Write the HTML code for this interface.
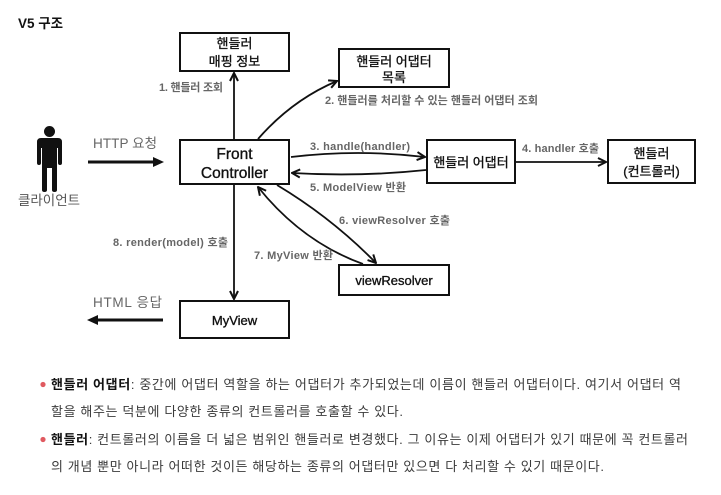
<!DOCTYPE html>
<html><head><meta charset="utf-8">
<style>
html,body{margin:0;padding:0;background:#fff;width:721px;height:495px;overflow:hidden}
svg{display:block}
text{font-family:"Liberation Sans","Noto Sans CJK KR",sans-serif}
.lb{font-size:11px;font-weight:bold;fill:#666}
.bx{font-size:13px;fill:#111;stroke:#111;stroke-width:0.35}
.bt{font-size:13px;fill:#3a3a3a}
</style></head>
<body>
<svg width="721" height="495" viewBox="0 0 721 495" xmlns="http://www.w3.org/2000/svg">
<defs>
<marker id="v" viewBox="0 0 10 10" refX="9" refY="5" markerWidth="10" markerHeight="10" markerUnits="userSpaceOnUse" orient="auto">
<path d="M1,1 L9,5 L1,9" fill="none" stroke="#111" stroke-width="2" stroke-linejoin="miter"/>
</marker>
</defs>

<text x="18" y="28" font-size="13.5" font-weight="bold" fill="#111">V5 구조</text>

<!-- boxes -->
<g fill="#fff" stroke="#111" stroke-width="2">
<rect x="180" y="33" width="109" height="38"/>
<rect x="339" y="49" width="110" height="38"/>
<rect x="180" y="140" width="109" height="44"/>
<rect x="427" y="140" width="88" height="43"/>
<rect x="608" y="140" width="87" height="43"/>
<rect x="339" y="265" width="110" height="30"/>
<rect x="180" y="301" width="109" height="37"/>
</g>

<g text-anchor="middle" class="bx">
<text x="234.5" y="48">핸들러</text>
<text x="234.5" y="66">매핑 정보</text>
<text x="394" y="66">핸들러 어댑터</text>
<text x="394" y="82">목록</text>
<text x="234.5" y="159" font-size="15.5">Front</text>
<text x="234.5" y="178" font-size="15.5">Controller</text>
<text x="471" y="167">핸들러 어댑터</text>
<text x="651.5" y="158">핸들러</text>
<text x="651.5" y="176">(컨트롤러)</text>
<text x="394" y="285">viewResolver</text>
<text x="234.5" y="325">MyView</text>
</g>

<!-- connectors -->
<g fill="none" stroke="#111" stroke-width="1.8" marker-end="url(#v)">
<path d="M234,139 L234,73"/>
<path d="M258,139 Q292,100 337,81"/>
<path d="M291,157 Q358,149 425,157"/>
<path d="M426,170 Q360,177 292,173"/>
<path d="M516,162 L606,162"/>
<path d="M277,185 Q332,218 376,263"/>
<path d="M363,264 Q302,242 258,187"/>
<path d="M234,185 L234,299"/>
</g>

<!-- labels -->
<text class="lb" x="159" y="91" textLength="64">1. 핸들러 조회</text>
<text class="lb" x="325" y="104" textLength="213">2. 핸들러를 처리할 수 있는 핸들러 어댑터 조회</text>
<text class="lb" x="310" y="150" textLength="100">3. handle(handler)</text>
<text class="lb" x="522" y="152" textLength="77">4. handler 호출</text>
<text class="lb" x="310" y="191" textLength="96">5. ModelView 반환</text>
<text class="lb" x="339" y="224" textLength="111">6. viewResolver 호출</text>
<text class="lb" x="254" y="259" textLength="79">7. MyView 반환</text>
<text class="lb" x="113" y="246" textLength="115">8. render(model) 호출</text>

<!-- person -->
<g fill="#111">
<circle cx="49.5" cy="131.5" r="5.5"/>
<path d="M41,138 H58 Q62,138 62,142 V163 Q62,165 60,165 Q58,165 58,163 V148 H57 V190 Q57,192 54.5,192 Q52,192 52,190 V168 H47 V190 Q47,192 44.5,192 Q42,192 42,190 V148 H41 V163 Q41,165 39,165 Q37,165 37,163 V142 Q37,138 41,138 Z"/>
</g>
<text x="49" y="205" text-anchor="middle" font-size="13.5" fill="#555">클라이언트</text>

<text x="93" y="148" font-size="13.5" fill="#666" textLength="64">HTTP 요청</text>
<line x1="88" y1="162" x2="154" y2="162" stroke="#111" stroke-width="3"/>
<path d="M153,157 L164,162 L153,167 Z" fill="#111"/>

<text x="93" y="307" font-size="13.5" fill="#666" textLength="69">HTML 응답</text>
<line x1="97" y1="320" x2="163" y2="320" stroke="#111" stroke-width="3"/>
<path d="M98,315 L87,320 L98,325 Z" fill="#111"/>

<!-- bullets -->
<circle cx="43" cy="384.5" r="2.6" fill="#e05a60"/>
<circle cx="43" cy="439.5" r="2.6" fill="#e05a60"/>
<text class="bt" x="51" y="389" textLength="630"><tspan font-weight="bold" fill="#111">핸들러 어댑터</tspan>: 중간에 어댑터 역할을 하는 어댑터가 추가되었는데 이름이 핸들러 어댑터이다. 여기서 어댑터 역</text>
<text class="bt" x="51" y="416" textLength="352">할을 해주는 덕분에 다양한 종류의 컨트롤러를 호출할 수 있다.</text>
<text class="bt" x="51" y="444" textLength="637"><tspan font-weight="bold" fill="#111">핸들러</tspan>: 컨트롤러의 이름을 더 넓은 범위인 핸들러로 변경했다. 그 이유는 이제 어댑터가 있기 때문에 꼭 컨트롤러</text>
<text class="bt" x="51" y="471" textLength="553">의 개념 뿐만 아니라 어떠한 것이든 해당하는 종류의 어댑터만 있으면 다 처리할 수 있기 때문이다.</text>
</svg>
</body></html>
